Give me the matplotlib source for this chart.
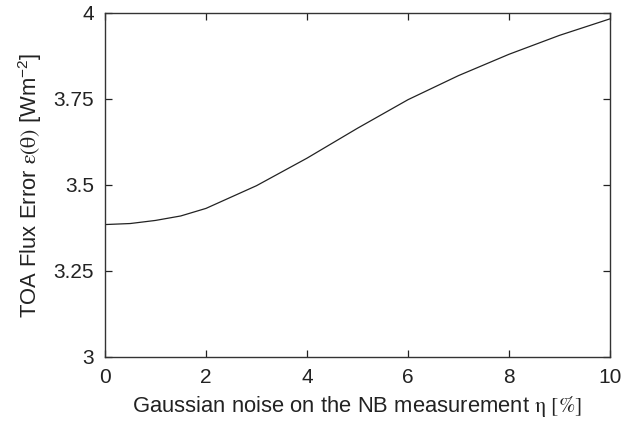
import matplotlib
matplotlib.use("Agg")
from matplotlib import pyplot as plt

plt.rcParams['font.family'] = ['Liberation Sans', 'DejaVu Sans']
plt.rcParams['mathtext.fontset'] = 'stix'

# noise level eta [%] and TOA flux error [W m-2]
noise_pct = [0, 0.5, 1, 1.5, 2, 3, 4, 5, 6, 7, 8, 9, 10]
flux_error = [3.385, 3.388, 3.397, 3.410, 3.432, 3.498, 3.578, 3.665,
              3.748, 3.818, 3.880, 3.935, 3.983]

x_ticks = [0, 2, 4, 6, 8, 10]
x_tick_labels = ['0', '2', '4', '6', '8', '10']
y_ticks = [3, 3.25, 3.5, 3.75, 4]
y_tick_labels = ['3', '3.25', '3.5', '3.75', '4']

fig = plt.figure(figsize=(6.33, 4.22), dpi=100)
ax = fig.add_axes([105 / 633, 1 - 357 / 422, 505 / 633, 344 / 422])

ax.plot(noise_pct, flux_error, color='#222222', linewidth=0.9)

ax.set_xlim(0, 10)
ax.set_ylim(3, 4)
ax.set_xticks(x_ticks)
ax.set_xticklabels(x_tick_labels)
ax.set_yticks(y_ticks)
ax.set_yticklabels(y_tick_labels)

ax.tick_params(direction='in', top=True, right=True, length=5, width=0.9,
               labelsize=15, colors='#222222', pad=8)
for spine in ax.spines.values():
    spine.set_linewidth(1.0)
    spine.set_color('#333333')

ax.set_xlabel(r'Gaussian noise on the NB measurement $\mathrm{\eta}\ [\%]$',
              fontsize=15.8, color='#222222', labelpad=5)
ax.set_ylabel(r'TOA Flux Error $\mathrm{\varepsilon(\theta)}$ [Wm$\mathregular{^{-2}}$]',
              fontsize=15.8, color='#222222', labelpad=7)

plt.savefig('out.png', dpi=100)
